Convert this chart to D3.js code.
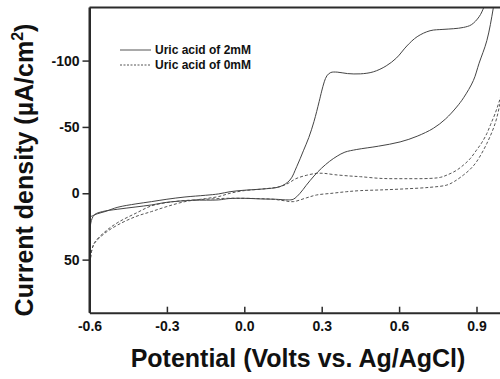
<!DOCTYPE html>
<html><head><meta charset="utf-8">
<script src="https://cdn.jsdelivr.net/npm/d3@7"></script>
<style>body{margin:0;background:#fff;}svg{display:block;font-family:"Liberation Sans",Arial,sans-serif;}</style>
</head><body><svg id="c" width="500" height="379"></svg>
<script>
// potential (V) and current density (µA/cm², positive = cathodic, plotted downward)
const uric2mM = [
 [-0.6,18],[-0.57,15.5],[-0.54,13.8],[-0.49,10.5],[-0.42,8],[-0.36,6.3],[-0.3,4.5],[-0.23,2.8],[-0.15,1.5],[-0.1,0.5],
 [-0.055,-1.2],[0.0,-2.3],[0.07,-3.2],[0.138,-5],[0.177,-10],[0.203,-20],[0.229,-32],[0.25,-42],[0.27,-54],[0.29,-69],
 [0.30,-77],[0.31,-84],[0.32,-88.5],[0.335,-91],[0.36,-91.3],[0.40,-90.2],[0.45,-90],[0.50,-91.5],[0.55,-96],[0.59,-102],[0.63,-111],[0.67,-118],
 [0.72,-122.5],[0.77,-123.5],[0.81,-124],[0.85,-125],[0.88,-127],[0.91,-133],[0.93,-141],[0.96,-160],[1.0,-195],
 [0.98,-160],[0.965,-139.5],[0.94,-115],[0.91,-98],[0.888,-85],[0.85,-72],[0.823,-65],[0.78,-56],[0.733,-49],[0.67,-43],
 [0.604,-38.7],[0.52,-35.5],[0.436,-33],[0.39,-31],[0.36,-28],[0.33,-24],[0.30,-19],[0.27,-13],[0.24,-6],[0.216,0],
 [0.19,4.5],[0.17,5],[0.12,4.5],[0.07,4.3],[0.0,3.8],[-0.06,4],[-0.1,5],[-0.2,5.3],[-0.3,6.8],[-0.36,8.8],[-0.42,10.3],
 [-0.49,12],[-0.55,13.8],[-0.58,16],[-0.59,19],[-0.595,22.5],[-0.599,30],[-0.6,60]
];
const uric0mM = [
 [-0.6,75],[-0.599,60],[-0.597,50],[-0.59,42],[-0.58,37.5],[-0.54,30],[-0.49,23.8],[-0.42,17.5],[-0.36,13.8],[-0.3,10],
 [-0.23,6.3],[-0.15,4],[-0.1,2.5],[-0.055,0],[0.0,-2],[0.07,-3.2],[0.138,-5],[0.17,-7.5],[0.2,-11],[0.24,-13.5],[0.28,-15],
 [0.31,-15],[0.35,-14],[0.41,-13],[0.45,-12.5],[0.53,-11.2],[0.62,-11],[0.72,-11.2],[0.76,-12],[0.785,-13.7],[0.82,-17],
 [0.849,-21.2],[0.875,-26],[0.90,-32.5],[0.92,-38],[0.94,-45],[0.955,-52],[0.972,-60],[0.991,-71],[1.0,-77],
 [0.991,-67.5],[0.972,-52.5],[0.94,-37.5],[0.90,-23.7],[0.875,-18],[0.849,-13.7],[0.815,-9],[0.785,-6.2],[0.72,-4.5],
 [0.62,-3.3],[0.526,-2.5],[0.45,-2],[0.397,-1.2],[0.34,0],[0.28,1.3],[0.24,3.5],[0.19,6.3],[0.15,5.5],[0.112,4.5],
 [0.05,4],[-0.055,3.75],[-0.15,4.5],[-0.25,5.8],[-0.3,7],[-0.36,9.5],[-0.42,15],[-0.49,22],[-0.54,29],[-0.58,37],
 [-0.59,42],[-0.597,52],[-0.6,75]
];
const xTicks = [-0.6,-0.3,0.0,0.3,0.6,0.9];
const yTicks = [-100,-50,0,50];
const legendLabels = ["Uric acid of 2mM","Uric acid of 0mM"];
const xTitle = "Potential (Volts vs. Ag/AgCl)";

const svg = d3.select("#c");
const L=89.5, T=7.5, B=312.7;
const x = d3.scaleLinear().domain([-0.6,1.0]).range([L, L+1.6/0.3*77.4]);
const y = d3.scaleLinear().domain([-140,90]).range([T,B]);
const R = x(1.0);
const ink = "#2b2b2b";

svg.append("defs").append("clipPath").attr("id","clip")
  .append("rect").attr("x",L).attr("y",T).attr("width",R-L).attr("height",B-T);

const line = d3.line().x(d=>x(d[0])).y(d=>y(d[1])).curve(d3.curveCatmullRom.alpha(0.5));
const g = svg.append("g").attr("clip-path","url(#clip)");
g.append("path").datum(uric0mM).attr("d",line).attr("fill","none")
  .attr("stroke","#555").attr("stroke-width",1).attr("stroke-dasharray","3,2");
g.append("path").datum(uric2mM).attr("d",line).attr("fill","none")
  .attr("stroke","#444").attr("stroke-width",1);

const fmt = v => d3.format(".1f")(v).replace("\u2212","-");
const xa = svg.append("g").attr("transform",`translate(0,${B})`)
  .call(d3.axisBottom(x).tickValues(xTicks).tickFormat(fmt).tickSizeInner(-6).tickSizeOuter(0).tickPadding(8));
const ya = svg.append("g").attr("transform",`translate(${L},0)`)
  .call(d3.axisLeft(y).tickValues(yTicks).tickFormat(v=>String(v)).tickSizeInner(7).tickSizeOuter(0).tickPadding(3));
[xa,ya].forEach(a=>{
  a.select(".domain").attr("stroke",ink).attr("stroke-width",2);
  a.selectAll(".tick line").attr("stroke",ink).attr("stroke-width",1.5);
  a.selectAll(".tick text").attr("fill","#111").attr("font-size",14).attr("font-weight","bold")
    .attr("font-family","'Liberation Sans',Arial,sans-serif");
});
// top border
svg.append("line").attr("x1",L).attr("x2",R).attr("y1",T).attr("y2",T).attr("stroke",ink).attr("stroke-width",2);
svg.append("line").attr("x1",L).attr("x2",L).attr("y1",T).attr("y2",B).attr("stroke",ink).attr("stroke-width",2);

// legend
const lg = svg.append("g");
legendLabels.forEach((t,i)=>{
  const yy = 50 + i*15;
  lg.append("line").attr("x1",120).attr("x2",151).attr("y1",yy).attr("y2",yy)
    .attr("stroke","#555").attr("stroke-width",1).attr("stroke-dasharray", i? "2,1.5":null);
  lg.append("text").attr("x",155).attr("y",yy).attr("dy","0.35em").attr("font-size",12)
    .attr("font-weight","bold").attr("fill","#111").text(t);
});

// titles
svg.append("text").attr("x",298).attr("y",367).attr("text-anchor","middle")
  .attr("font-size",25).attr("font-weight","bold").attr("fill","#111").text(xTitle);
const yt = svg.append("text").attr("transform","translate(33,170) rotate(-90)").attr("text-anchor","middle")
  .attr("font-size",25).attr("font-weight","bold").attr("fill","#111");
yt.append("tspan").text("Current density (\u00b5A/cm");
yt.append("tspan").attr("font-size",16).attr("dy",-10).text("2");
yt.append("tspan").attr("dy",10).text(")");
</script></body></html>
